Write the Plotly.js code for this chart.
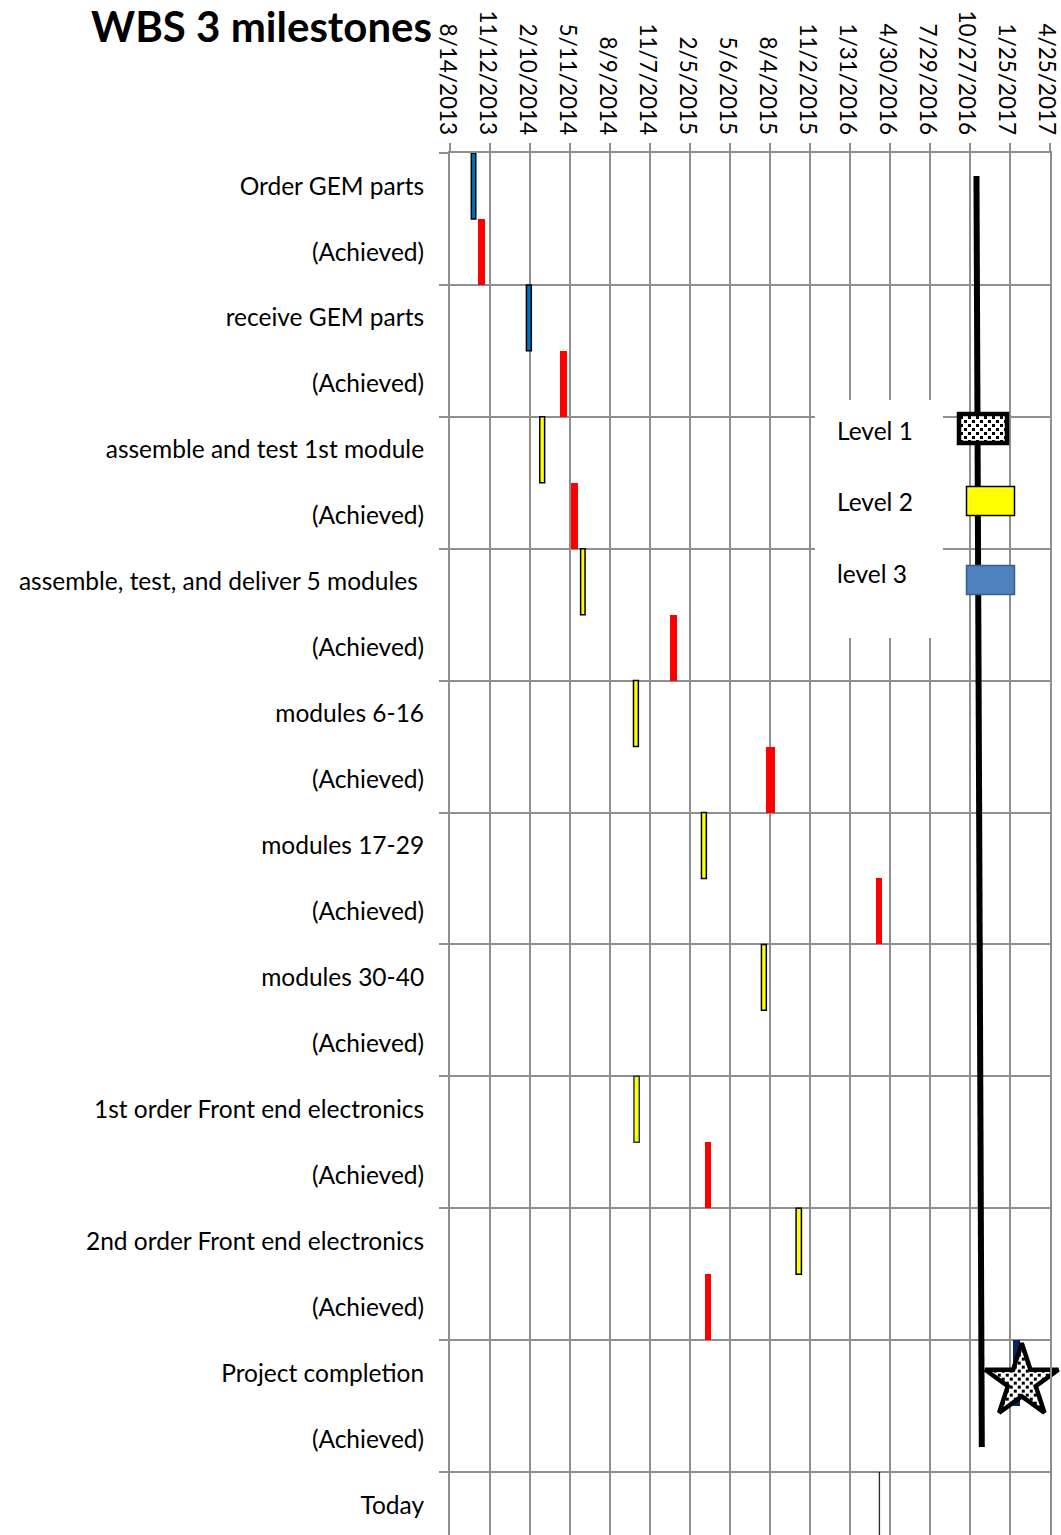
<!DOCTYPE html>
<html>
<head>
<meta charset="utf-8">
<script src="https://cdn.plot.ly/plotly-3.0.1.min.js"></script>
<style>
  html, body { margin: 0; padding: 0; background: #ffffff; }
  #chart { width: 1061px; height: 1535px; }
</style>
</head>
<body>
<div id="chart"></div>
<script>
// ---- schedule data ----
const milestones = [
  'Order GEM parts',
  'receive GEM parts',
  'assemble and test 1st module',
  'assemble, test, and deliver 5 modules\u00a0',
  'modules 6-16',
  'modules 17-29',
  'modules 30-40',
  '1st order Front end electronics',
  '2nd order Front end electronics',
  'Project completion'
];
const achievedLabel = '(Achieved)';
const todayLabel = 'Today';

// milestone level (1 = top level)
const milestoneLevel = [3, 3, 2, 2, 2, 2, 2, 2, 2, 1];

const plannedStart = ['2013-10-01', '2014-02-02', '2014-03-04', '2014-06-04', '2014-10-01',
                      '2015-03-03', '2015-07-16', '2014-10-02', '2015-10-02', '2017-02-01'];
const plannedEnd   = ['2013-10-11', '2014-02-13', '2014-03-15', '2014-06-14', '2014-10-12',
                      '2015-03-14', '2015-07-27', '2014-10-14', '2015-10-14', '2017-02-16'];

const achievedStart = ['2013-10-16', '2014-04-18', '2014-05-13', '2014-12-22', '2015-07-27',
                       '2016-03-30', null, '2015-03-11', '2015-03-11', null];
const achievedEnd   = ['2013-10-31', '2014-05-05', '2014-05-29', '2015-01-06', '2015-08-15',
                       '2016-04-13', null, '2015-03-25', '2015-03-25', null];

const todayDate = '2016-04-06';
const completionStarDate = '2017-02-21';
const statusLineDates = ['2016-11-11', '2016-11-23'];

const dateTickLabels = ['8/14/2013', '11/12/2013', '2/10/2014', '5/11/2014', '8/9/2014',
                        '11/7/2014', '2/5/2015', '5/6/2015', '8/4/2015', '11/2/2015',
                        '1/31/2016', '4/30/2016', '7/29/2016', '10/27/2016', '1/25/2017',
                        '4/25/2017'];

const legendLabels = ['Level 1', 'Level 2', 'level 3'];

// ---- helpers ----
const DAY = 86400000;
const pad2 = n => (n < 10 ? '0' : '') + n;
const toIso = s => { const [m, d, y] = s.split('/').map(Number); return y + '-' + pad2(m) + '-' + pad2(d); };
const span = (a, b) => Date.parse(b) - Date.parse(a);

const rowLabels = [];
milestones.forEach(m => { rowLabels.push(m); rowLabels.push(achievedLabel); });
rowLabels.push(todayLabel);
const rowIndex = rowLabels.map((_, i) => i);

const tickVals = dateTickLabels.map(toIso);

const FONT = 'Lato, "Open Sans", sans-serif';
const GRID = '#8f8f8f';
const LABEL_SIZE = 24.5;

function plannedTrace(level, fill, lineColors) {
  const idx = milestones.map((_, i) => i).filter(i => milestoneLevel[i] === level);
  return {
    type: 'bar', orientation: 'h', width: 1,
    y: idx.map(i => 2 * i),
    base: idx.map(i => plannedStart[i]),
    x: idx.map(i => span(plannedStart[i], plannedEnd[i])),
    marker: { color: fill, line: lineColors },
    hoverinfo: 'skip', showlegend: false
  };
}

const lvl2Idx = milestones.map((_, i) => i).filter(i => milestoneLevel[i] === 2);
const lvl2Borders = lvl2Idx.map(i => milestones[i].startsWith('1st order') ? '#1f3864' : '#000000');

const achIdx = milestones.map((_, i) => i).filter(i => achievedStart[i] !== null);

const traces = [
  plannedTrace(3, '#0070c0', { color: '#000000', width: 1.5 }),
  plannedTrace(2, '#ffff00', { color: lvl2Borders, width: 1.5 }),
  plannedTrace(1, '#0a2463', { color: '#0a2463', width: 0 }),
  {
    type: 'bar', orientation: 'h', width: 1,
    y: achIdx.map(i => 2 * i + 1),
    base: achIdx.map(i => achievedStart[i]),
    x: achIdx.map(i => span(achievedStart[i], achievedEnd[i])),
    marker: { color: '#ff0000', line: { width: 0 } },
    hoverinfo: 'skip', showlegend: false
  },
  {
    type: 'bar', orientation: 'h', width: 1,
    y: [rowLabels.length - 1],
    base: [todayDate],
    x: [DAY],
    marker: { color: '#000000', line: { color: '#000000', width: 0.6 } },
    hoverinfo: 'skip', showlegend: false
  },
  {
    type: 'scatter', mode: 'markers',
    x: [completionStarDate],
    y: [2 * (milestones.length - 1) + 0.13],
    marker: { symbol: 'star', size: 55, color: '#ffffff', line: { color: '#000000', width: 4.5 } },
    cliponaxis: false, hoverinfo: 'skip', showlegend: false
  }
];

// plot-area pixel frame used to place the key
const W = 1061, H = 1535, L = 450, R = 11, T = 153, B = 0;
const pw = W - L - R, ph = H - T - B;
const px = x => (x - L) / pw;
const py = y => (H - B - y) / ph;
const rowPx = 65.95;
const yTop = -0.5, yBottom = yTop + ph / rowPx;

const shapes = [
  { type: 'line', xref: 'x', yref: 'y', layer: 'above',
    x0: statusLineDates[0], y0: -0.15, x1: statusLineDates[1], y1: 19.12,
    line: { color: '#000000', width: 6 } },
  { type: 'rect', xref: 'paper', yref: 'paper', layer: 'above',
    x0: px(815), x1: px(943), y0: py(638), y1: py(400),
    fillcolor: '#ffffff', line: { width: 0 } },
  { type: 'rect', xref: 'paper', yref: 'paper', layer: 'above',
    x0: px(959), x1: px(1007), y0: py(443), y1: py(414),
    fillcolor: '#ffffff', line: { color: '#000000', width: 4.5 } },
  { type: 'rect', xref: 'paper', yref: 'paper', layer: 'above',
    x0: px(966.5), x1: px(1014.5), y0: py(515.5), y1: py(486.5),
    fillcolor: '#ffff00', line: { color: '#000000', width: 1.5 } },
  { type: 'rect', xref: 'paper', yref: 'paper', layer: 'above',
    x0: px(966.5), x1: px(1014.5), y0: py(594.5), y1: py(565.5),
    fillcolor: '#4f81bd', line: { color: '#385d8a', width: 1.5 } }
];

const legendY = [430, 501, 573];
const annotations = legendLabels.map((t, k) => ({
  xref: 'paper', yref: 'paper', x: px(835), y: py(legendY[k]),
  xanchor: 'left', yanchor: 'middle', showarrow: false,
  text: t, font: { family: FONT, size: LABEL_SIZE, color: '#000000' }
}));

// the axis runs half a day past the last tick so that tick is kept
const rangeEnd = new Date(Date.parse(tickVals[tickVals.length - 1]) + DAY / 2).toISOString().slice(0, 16).replace('T', ' ');

const layout = {
  width: W, height: H,
  margin: { l: L, r: R, t: T, b: B, pad: 0 },
  paper_bgcolor: '#ffffff', plot_bgcolor: '#ffffff',
  barmode: 'overlay', bargap: 0,
  showlegend: false,
  font: { family: FONT, color: '#000000' },
  title: {
    text: '<b>WBS 3 milestones</b>',
    font: { family: FONT, size: 42, color: '#000000' },
    xref: 'container', yref: 'container',
    x: 432 / W, xanchor: 'right',
    y: 1 - 27 / H, yanchor: 'middle'
  },
  xaxis: {
    type: 'date', side: 'top',
    range: [tickVals[0], rangeEnd],
    tickmode: 'array', tickvals: tickVals, ticktext: dateTickLabels,
    tickangle: 90, ticklabeloverflow: 'allow', ticklabelshift: -3,
    tickfont: { family: FONT, size: 22.5, color: '#000000' },
    ticks: 'outside', ticklen: 8, tickwidth: 2, tickcolor: GRID,
    showgrid: true, gridcolor: GRID, gridwidth: 2,
    showline: true, linecolor: GRID, linewidth: 2,
    zeroline: false, automargin: false, fixedrange: true
  },
  yaxis: {
    type: 'linear',
    range: [yBottom, yTop],
    tickmode: 'array', tickvals: rowIndex, ticktext: rowLabels,
    tickfont: { family: FONT, size: LABEL_SIZE, color: '#000000' },
    ticks: '', ticklabelstandoff: 19,
    showgrid: false,
    minor: {
      tickmode: 'array',
      tickvals: rowIndex.filter(i => i % 2 === 0).map(i => i - 0.5),
      showgrid: true, gridcolor: GRID, gridwidth: 2,
      ticks: 'outside', ticklen: 9, tickwidth: 2, tickcolor: GRID
    },
    showline: true, mirror: true, linecolor: GRID, linewidth: 2,
    zeroline: false, automargin: false, fixedrange: true
  },
  shapes: shapes,
  annotations: annotations
};

const gd = document.getElementById('chart');
Plotly.newPlot(gd, traces, layout, { staticPlot: true, displayModeBar: false }).then(() => {
  // speckled fill for level-1 markers (key box and completion star)
  const NS = 'http://www.w3.org/2000/svg';
  const defs = gd.querySelector('svg.main-svg defs');
  const pat = document.createElementNS(NS, 'pattern');
  pat.setAttribute('id', 'speckle');
  pat.setAttribute('patternUnits', 'userSpaceOnUse');
  pat.setAttribute('width', '8');
  pat.setAttribute('height', '8');
  const bg = document.createElementNS(NS, 'rect');
  bg.setAttribute('width', '8'); bg.setAttribute('height', '8'); bg.setAttribute('fill', '#ffffff');
  pat.appendChild(bg);
  [[0, 0], [4, 4]].forEach(([a, b]) => {
    const r = document.createElementNS(NS, 'rect');
    r.setAttribute('x', a); r.setAttribute('y', b);
    r.setAttribute('width', '3'); r.setAttribute('height', '3');
    r.setAttribute('fill', '#000000');
    pat.appendChild(r);
  });
  defs.appendChild(pat);
  const keyBox = gd.querySelector('.layer-above .shapelayer path[data-index="2"]');
  if (keyBox) keyBox.style.fill = 'url(#speckle)';
  gd.querySelectorAll('.scatterlayer path.point').forEach(p => { p.style.fill = 'url(#speckle)'; });
});
</script>
</body>
</html>
